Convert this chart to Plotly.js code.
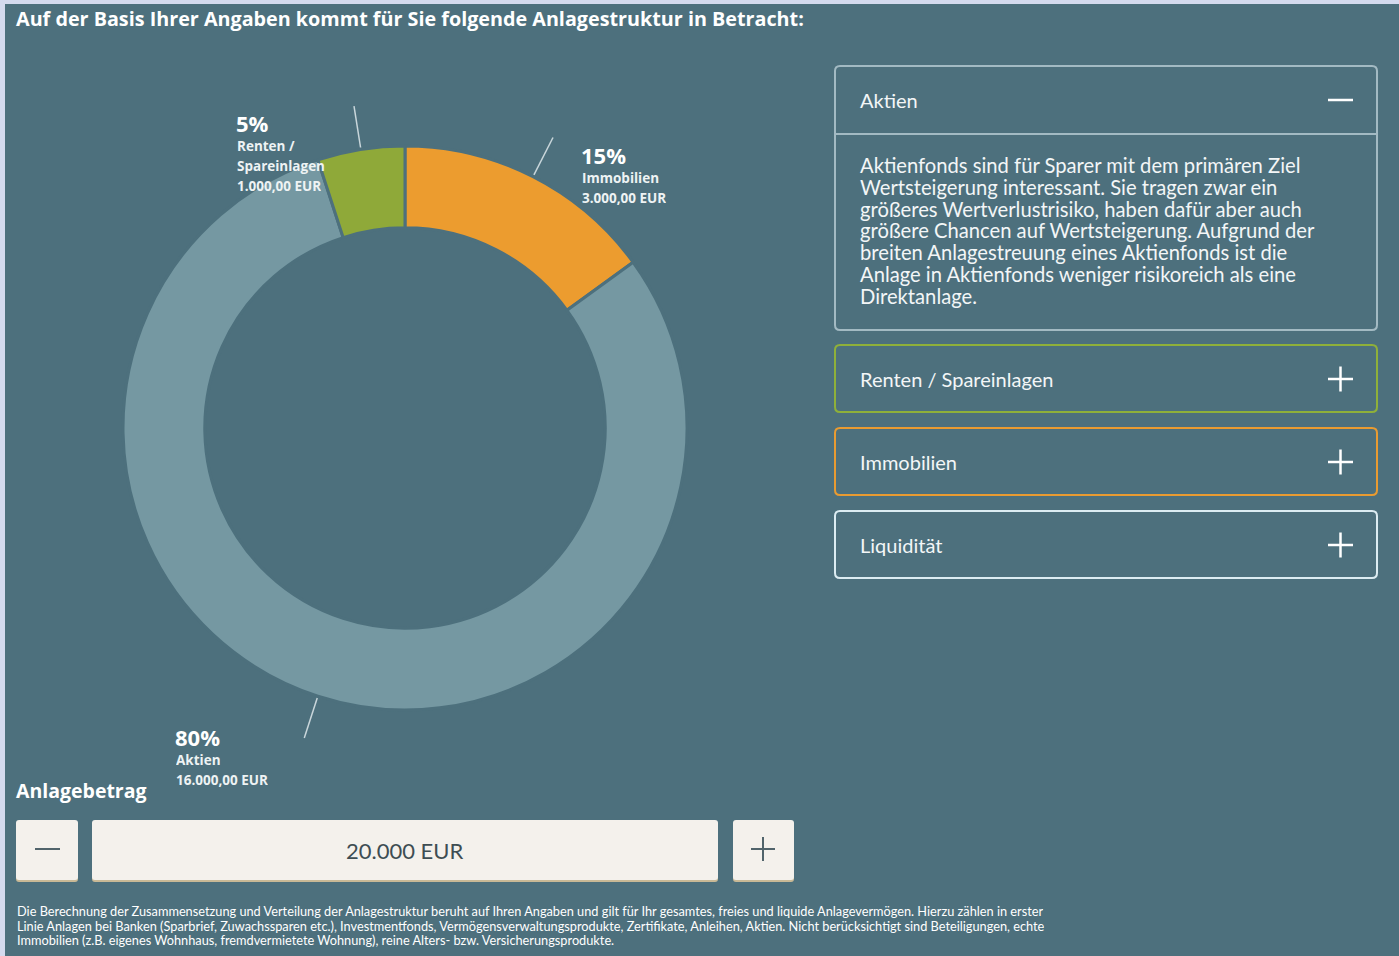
<!DOCTYPE html>
<html><head><meta charset="utf-8">
<script src="https://cdn.plot.ly/plotly-3.0.1.min.js"></script>
<style>html,body{margin:0;padding:0;background:#4d707d;}#chart{width:1399px;height:956px;}</style>
</head><body><div id="chart"></div>
<script>
// ---- data ----
const categories = ["Immobilien", "Aktien", "Renten / Spareinlagen"];
const labelNames = ["Immobilien", "Aktien", "Renten /<br>Spareinlagen"];
const amounts = [3000, 16000, 1000];
const accordionItems = ["Aktien", "Renten / Spareinlagen", "Immobilien", "Liquidität"];
const aktienText = [
  "Aktienfonds sind für Sparer mit dem primären Ziel",
  "Wertsteigerung interessant. Sie tragen zwar ein",
  "größeres Wertverlustrisiko, haben dafür aber auch",
  "größere Chancen auf Wertsteigerung. Aufgrund der",
  "breiten Anlagestreuung eines Aktienfonds ist die",
  "Anlage in Aktienfonds weniger risikoreich als eine",
  "Direktanlage."
];
const footnote = [
  "Die Berechnung der Zusammensetzung und Verteilung der Anlagestruktur beruht auf Ihren Angaben und gilt für Ihr gesamtes, freies und liquide Anlagevermögen. Hierzu zählen in erster",
  "Linie Anlagen bei Banken (Sparbrief, Zuwachssparen etc.), Investmentfonds, Vermögensverwaltungsprodukte, Zertifikate, Anleihen, Aktien. Nicht berücksichtigt sind Beteiligungen, echte",
  "Immobilien (z.B. eigenes Wohnhaus, fremdvermietete Wohnung), reine Alters- bzw. Versicherungsprodukte."
];
const titleText = "Auf der Basis Ihrer Angaben kommt für Sie folgende Anlagestruktur in Betracht:";

// ---- styles ----
const BG = "#4d707d";
const sliceColors = ["#ec9c2f", "#7598a2", "#8fa939"];
const boxBorders = ["#a3bac3", "#8fb03a", "#e99b31", "#dcecf2"];
const FONT = "Lato, 'Open Sans', sans-serif";
const FONT2 = "'Open Sans', Lato, sans-serif";
const W = 1399, H = 956;
const px = x => x / W, py = y => 1 - y / H;

const total = amounts.reduce((a, b) => a + b, 0);
const fmt2 = v => v.toLocaleString("de-DE", {minimumFractionDigits: 2, maximumFractionDigits: 2});
const fmt0 = v => v.toLocaleString("de-DE", {maximumFractionDigits: 0});

// pie geometry (pixels)
const CX = 405, CY = 428, R = 282;

const shapes = [];
const annotations = [];

// page border
shapes.push({type: "rect", xref: "paper", yref: "paper", x0: 0, x1: 1, y0: py(4), y1: 1, fillcolor: "#d4daee", line: {width: 0}, layer: "below"});
shapes.push({type: "rect", xref: "paper", yref: "paper", x0: 0, x1: px(5), y0: 0, y1: 1, fillcolor: "#d4daee", line: {width: 0}, layer: "below"});

// title
annotations.push({xref: "paper", yref: "paper", x: px(14), y: py(18), xanchor: "left", yanchor: "middle", showarrow: false,
  text: "<b>" + titleText + "</b>", font: {family: FONT2, size: 19.75, color: "#ffffff"}});

// leader lines computed from slice mid-angles (clockwise from 12 o'clock)
let cum = 0;
const mids = amounts.map(v => { const m = (cum + v / 2) / total * 2 * Math.PI; cum += v; return m; });
mids.forEach(a => {
  const r1 = R + 2, r2 = R + 44;
  shapes.push({type: "line", xref: "paper", yref: "paper",
    x0: px(CX + r1 * Math.sin(a)), y0: py(CY - r1 * Math.cos(a)),
    x1: px(CX + r2 * Math.sin(a)), y1: py(CY - r2 * Math.cos(a)),
    line: {color: "#c9d6db", width: 1.5}});
});

// slice labels
const labelPos = [ {x: 581, y: 155}, {x: 175, y: 737}, {x: 236, y: 123} ];
categories.forEach((c, i) => {
  const pct = Math.round(amounts[i] / total * 100);
  const p = labelPos[i];
  annotations.push({xref: "paper", yref: "paper", x: px(p.x - 2), y: py(p.y), xanchor: "left", yanchor: "middle", showarrow: false,
    text: "<b>" + pct + "%</b>", font: {family: FONT2, size: 22, color: "#ffffff"}});
  const lines = labelNames[i].split("<br>").concat([fmt2(amounts[i]) + " EUR"]);
  lines.forEach((t, k) => {
    annotations.push({xref: "paper", yref: "paper", x: px(p.x - 1), y: py(p.y + 23 + k * 20), xanchor: "left", yanchor: "middle", showarrow: false,
      height: 19.5, text: "<b>" + t + "</b>", font: {family: FONT2, size: 13.5, color: "#eef3f4"}});
  });
});

// rounded rectangle path
function rrect(x0, y0, x1, y1, r) {
  const P = (x, y) => px(x) + "," + py(y);
  return "M" + P(x0 + r, y0) + " L" + P(x1 - r, y0) + " Q" + P(x1, y0) + " " + P(x1, y0 + r) +
    " L" + P(x1, y1 - r) + " Q" + P(x1, y1) + " " + P(x1 - r, y1) +
    " L" + P(x0 + r, y1) + " Q" + P(x0, y1) + " " + P(x0, y1 - r) +
    " L" + P(x0, y0 + r) + " Q" + P(x0, y0) + " " + P(x0 + r, y0) + " Z";
}

// accordion boxes
const BX0 = 835, BX1 = 1377;
const boxes = [ {y0: 66, y1: 330, head: 100}, {y0: 345, y1: 412, head: 379}, {y0: 428, y1: 495, head: 462}, {y0: 511, y1: 578, head: 545} ];
boxes.forEach((b, i) => {
  shapes.push({type: "path", xref: "paper", yref: "paper", path: rrect(BX0, b.y0, BX1, b.y1, 5),
    line: {color: boxBorders[i], width: 2}, fillcolor: "rgba(0,0,0,0)"});
  annotations.push({xref: "paper", yref: "paper", x: px(858), y: py(b.head), xanchor: "left", yanchor: "middle", showarrow: false,
    text: accordionItems[i], font: {family: FONT, size: 20, color: "#f3f6f7"}});
  // icon
  shapes.push({type: "line", xref: "paper", yref: "paper", x0: px(1328), x1: px(1353), y0: py(b.head), y1: py(b.head), line: {color: "#ffffff", width: 2.5}});
  if (i > 0) {
    shapes.push({type: "line", xref: "paper", yref: "paper", x0: px(1340.5), x1: px(1340.5), y0: py(b.head - 12.5), y1: py(b.head + 12.5), line: {color: "#ffffff", width: 2.5}});
  }
});
// divider in expanded box
shapes.push({type: "line", xref: "paper", yref: "paper", x0: px(BX0), x1: px(BX1), y0: py(134), y1: py(134), line: {color: boxBorders[0], width: 2}});
// body text as one block: line spacing from base font (16.8px * 1.3 = 21.8px), glyphs at 20.2px
annotations.push({xref: "paper", yref: "paper", x: px(858), y: py(230.5), xanchor: "left", yanchor: "middle", showarrow: false, align: "left",
  text: aktienText.map(t => '<span style="font-size:20.2px">' + t + '</span>').join("<br>"),
  font: {family: FONT, size: 16.77, color: "#f3f6f7"}});

// Anlagebetrag
annotations.push({xref: "paper", yref: "paper", x: px(14), y: py(790), xanchor: "left", yanchor: "middle", showarrow: false,
  text: "<b>Anlagebetrag</b>", font: {family: FONT2, size: 19.5, color: "#ffffff"}});
const btns = [ [16, 78], [92, 718], [733, 794] ];
btns.forEach(b => {
  shapes.push({type: "path", xref: "paper", yref: "paper", path: rrect(b[0], 822, b[1], 882, 3), fillcolor: "#c9b996", line: {width: 0}});
  shapes.push({type: "path", xref: "paper", yref: "paper", path: rrect(b[0], 820, b[1], 880, 3), fillcolor: "#f4f1ec", line: {width: 0}});
});
shapes.push({type: "line", xref: "paper", yref: "paper", x0: px(35), x1: px(60), y0: py(849), y1: py(849), line: {color: "#51646b", width: 2}});
shapes.push({type: "line", xref: "paper", yref: "paper", x0: px(751), x1: px(775), y0: py(849), y1: py(849), line: {color: "#51646b", width: 2}});
shapes.push({type: "line", xref: "paper", yref: "paper", x0: px(763), x1: px(763), y0: py(837), y1: py(861), line: {color: "#51646b", width: 2}});
annotations.push({xref: "paper", yref: "paper", x: px(405), y: py(850), xanchor: "center", yanchor: "middle", showarrow: false,
  text: fmt0(total) + " EUR", font: {family: FONT, size: 22, color: "#3e4d53"}});

// footnote
footnote.forEach((t, k) => {
  annotations.push({xref: "paper", yref: "paper", x: px(15), y: py(911 + k * 14.5), xanchor: "left", yanchor: "middle", showarrow: false,
    height: 14.3, text: t, font: {family: FONT, size: 12.75, color: "#ffffff"}});
});

const trace = {
  type: "pie",
  labels: categories,
  values: amounts,
  sort: false,
  direction: "clockwise",
  rotation: 0,
  hole: 0.71,
  marker: {colors: sliceColors, line: {color: BG, width: 3}},
  textinfo: "none",
  hoverinfo: "none",
  showlegend: false,
  domain: {x: [px(CX - R), px(CX + R)], y: [py(CY + R), py(CY - R)]}
};

const layout = {
  width: W, height: H,
  margin: {l: 0, r: 0, t: 0, b: 0},
  paper_bgcolor: BG, plot_bgcolor: BG,
  showlegend: false,
  shapes: shapes,
  annotations: annotations
};
Plotly.newPlot("chart", [trace], layout, {displayModeBar: false, staticPlot: true});
</script>
</body></html>
